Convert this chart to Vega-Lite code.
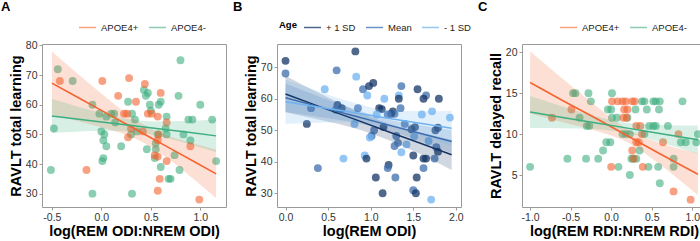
{
"$schema": "https://vega.github.io/schema/vega-lite/v6.json",
"padding": {"left": 0, "top": 0, "right": 0, "bottom": 0},
"background": "white",
"spacing": 5,
"config": {
  "font": "Liberation Sans",
  "view": {"stroke": "#9a9a9a", "strokeWidth": 1},
  "axis": {"grid": false, "domain": false, "tickColor": "#9a9a9a", "tickSize": 3, "tickCount": 12, "labelFontSize": 10.5, "labelColor": "#333333", "labelFlush": false, "labelOverlap": false, "titleFontSize": 14.5, "titleFontWeight": "bold", "titleColor": "#000000", "labelPadding": 2, "titlePadding": 2},
  "title": {"fontSize": 13, "fontWeight": "bold", "anchor": "start", "frame": "group", "color": "#000000"}
},
"resolve": {"scale": {"color": "independent", "x": "independent", "y": "independent"}, "legend": {"color": "independent"}},
"datasets": {
  "ptsA": [
    {"g":"APOE4-","x":-0.51,"y":38},{"g":"APOE4-","x":-0.48,"y":52},{"g":"APOE4-","x":-0.44,"y":72},{"g":"APOE4-","x":-0.29,"y":68},{"g":"APOE4-","x":-0.09,"y":60},{"g":"APOE4-","x":-0.09,"y":30},{"g":"APOE4-","x":-0.02,"y":57},{"g":"APOE4-","x":0.0,"y":51},{"g":"APOE4-","x":0.02,"y":48},{"g":"APOE4-","x":0.03,"y":50},{"g":"APOE4-","x":0.05,"y":46},{"g":"APOE4-","x":0.02,"y":42},{"g":"APOE4-","x":0.01,"y":41},{"g":"APOE4-","x":0.05,"y":56},{"g":"APOE4-","x":0.1,"y":57},{"g":"APOE4-","x":0.13,"y":57},{"g":"APOE4-","x":0.14,"y":54},{"g":"APOE4-","x":0.2,"y":46},{"g":"APOE4-","x":0.27,"y":61},{"g":"APOE4-","x":0.31,"y":57},{"g":"APOE4-","x":0.34,"y":55},{"g":"APOE4-","x":0.3,"y":50},{"g":"APOE4-","x":0.31,"y":30},{"g":"APOE4-","x":0.36,"y":51},{"g":"APOE4-","x":0.43,"y":65},{"g":"APOE4-","x":0.45,"y":63},{"g":"APOE4-","x":0.47,"y":64},{"g":"APOE4-","x":0.49,"y":60},{"g":"APOE4-","x":0.5,"y":58},{"g":"APOE4-","x":0.58,"y":60},{"g":"APOE4-","x":0.6,"y":61},{"g":"APOE4-","x":0.66,"y":56},{"g":"APOE4-","x":0.8,"y":75},{"g":"APOE4-","x":0.78,"y":63},{"g":"APOE4-","x":0.88,"y":55},{"g":"APOE4-","x":0.92,"y":55},{"g":"APOE4-","x":1.0,"y":60},{"g":"APOE4-","x":1.12,"y":55},{"g":"APOE4-","x":0.57,"y":50},{"g":"APOE4-","x":0.66,"y":50},{"g":"APOE4-","x":0.83,"y":50},{"g":"APOE4-","x":0.9,"y":48},{"g":"APOE4-","x":0.46,"y":45},{"g":"APOE4-","x":0.55,"y":45},{"g":"APOE4-","x":0.54,"y":42},{"g":"APOE4-","x":0.6,"y":39},{"g":"APOE4-","x":0.74,"y":43},{"g":"APOE4-","x":0.79,"y":38},{"g":"APOE4-","x":0.68,"y":35},{"g":"APOE4-","x":0.7,"y":35},{"g":"APOE4-","x":1.16,"y":41},{"g":"APOE4-","x":0.55,"y":47},{"g":"APOE4-","x":0.65,"y":52},
    {"g":"APOE4+","x":-0.42,"y":68},{"g":"APOE4+","x":0.01,"y":68},{"g":"APOE4+","x":0.28,"y":69},{"g":"APOE4+","x":0.17,"y":63},{"g":"APOE4+","x":0.35,"y":61},{"g":"APOE4+","x":0.23,"y":57},{"g":"APOE4+","x":0.26,"y":57},{"g":"APOE4+","x":0.44,"y":67},{"g":"APOE4+","x":0.6,"y":64},{"g":"APOE4+","x":0.47,"y":57},{"g":"APOE4+","x":0.51,"y":57},{"g":"APOE4+","x":0.57,"y":56},{"g":"APOE4+","x":0.66,"y":54},{"g":"APOE4+","x":0.27,"y":49},{"g":"APOE4+","x":0.3,"y":52},{"g":"APOE4+","x":0.42,"y":51},{"g":"APOE4+","x":0.58,"y":50},{"g":"APOE4+","x":0.54,"y":43},{"g":"APOE4+","x":0.57,"y":42.5},{"g":"APOE4+","x":0.66,"y":41},{"g":"APOE4+","x":0.59,"y":35},{"g":"APOE4+","x":0.57,"y":31},{"g":"APOE4+","x":-0.15,"y":38},{"g":"APOE4+","x":0.99,"y":28},{"g":"APOE4+","x":0.9,"y":46},{"g":"APOE4+","x":0.57,"y":48}
  ],
  "fitA": [
    {"g":"APOE4+","x":-0.5,"fit":67.3,"lo":56.6,"hi":78.0},{"g":"APOE4+","x":-0.25,"fit":62.7,"lo":54.6,"hi":70.8},{"g":"APOE4+","x":0,"fit":58.1,"lo":52.4,"hi":63.8},{"g":"APOE4+","x":0.25,"fit":53.5,"lo":49.8,"hi":57.2},{"g":"APOE4+","x":0.45,"fit":49.8,"lo":46.8,"hi":52.8},{"g":"APOE4+","x":0.7,"fit":45.2,"lo":41.2,"hi":49.2},{"g":"APOE4+","x":0.95,"fit":40.6,"lo":34.4,"hi":46.8},{"g":"APOE4+","x":1.16,"fit":36.7,"lo":28.5,"hi":44.9},
    {"g":"APOE4-","x":-0.5,"fit":56.2,"lo":50.5,"hi":61.9},{"g":"APOE4-","x":-0.25,"fit":55.2,"lo":50.9,"hi":59.5},{"g":"APOE4-","x":0,"fit":54.2,"lo":51.2,"hi":57.2},{"g":"APOE4-","x":0.35,"fit":52.8,"lo":50.8,"hi":54.8},{"g":"APOE4-","x":0.6,"fit":51.8,"lo":49.25,"hi":54.35},{"g":"APOE4-","x":0.9,"fit":50.6,"lo":46.6,"hi":54.6},{"g":"APOE4-","x":1.16,"fit":49.5,"lo":44.0,"hi":55.0}
  ],
  "ptsB": [
    {"age":"+ 1 SD","x":0,"y":72},{"age":"Mean","x":0,"y":68},{"age":"+ 1 SD","x":0.82,"y":75},{"age":"Mean","x":0.6,"y":69},{"age":"- 1 SD","x":0.83,"y":67},{"age":"- 1 SD","x":0.46,"y":63},{"age":"Mean","x":0.91,"y":63},{"age":"Mean","x":0.3,"y":57},{"age":"+ 1 SD","x":0.61,"y":58},{"age":"+ 1 SD","x":0.66,"y":57},{"age":"Mean","x":0.59,"y":56.5},{"age":"Mean","x":0.85,"y":57},{"age":"- 1 SD","x":0.81,"y":52},{"age":"+ 1 SD","x":0.25,"y":52},{"age":"Mean","x":0.38,"y":38},{"age":"- 1 SD","x":0.68,"y":41},{"age":"- 1 SD","x":0.93,"y":42},{"age":"+ 1 SD","x":0.95,"y":41},
    {"age":"+ 1 SD","x":1.03,"y":65},{"age":"+ 1 SD","x":0.98,"y":64},{"age":"- 1 SD","x":0.96,"y":61},{"age":"- 1 SD","x":1.16,"y":60},{"age":"Mean","x":1.36,"y":64},{"age":"- 1 SD","x":1.33,"y":61},{"age":"+ 1 SD","x":1.33,"y":60},{"age":"+ 1 SD","x":1.55,"y":63},{"age":"Mean","x":1.65,"y":61},{"age":"+ 1 SD","x":1.62,"y":60},{"age":"+ 1 SD","x":1.8,"y":60},{"age":"+ 1 SD","x":1.1,"y":57},{"age":"+ 1 SD","x":1.13,"y":56.7},{"age":"Mean","x":1.35,"y":57},{"age":"+ 1 SD","x":1.26,"y":56},{"age":"Mean","x":1.28,"y":55.2},{"age":"+ 1 SD","x":1.24,"y":55.2},{"age":"Mean","x":1.2,"y":55},{"age":"- 1 SD","x":1.07,"y":55},{"age":"- 1 SD","x":1.6,"y":55},{"age":"- 1 SD","x":1.72,"y":56},{"age":"- 1 SD","x":1.93,"y":54},{"age":"Mean","x":1.4,"y":52},{"age":"+ 1 SD","x":1.15,"y":51},{"age":"+ 1 SD","x":1.48,"y":50.3},{"age":"+ 1 SD","x":1.52,"y":51},{"age":"+ 1 SD","x":1.76,"y":50},{"age":"+ 1 SD","x":1.79,"y":50.8},{"age":"Mean","x":1.04,"y":50},{"age":"Mean","x":1.01,"y":48.2},{"age":"- 1 SD","x":0.99,"y":47.7},{"age":"Mean","x":1.3,"y":48.2},{"age":"- 1 SD","x":1.51,"y":48},{"age":"- 1 SD","x":1.68,"y":46.6},{"age":"Mean","x":1.32,"y":46},{"age":"Mean","x":1.28,"y":45},{"age":"- 1 SD","x":1.42,"y":45.5},{"age":"Mean","x":1.77,"y":44.6},{"age":"- 1 SD","x":1.36,"y":43},{"age":"+ 1 SD","x":1.79,"y":43.2},{"age":"+ 1 SD","x":1.5,"y":42},{"age":"+ 1 SD","x":1.62,"y":41},{"age":"+ 1 SD","x":1.65,"y":41},{"age":"Mean","x":1.75,"y":41},{"age":"+ 1 SD","x":1.21,"y":39},{"age":"Mean","x":1.2,"y":38},{"age":"Mean","x":1.62,"y":38},{"age":"+ 1 SD","x":1.06,"y":35},{"age":"Mean","x":1.29,"y":35},{"age":"+ 1 SD","x":1.54,"y":35},{"age":"Mean","x":1.5,"y":31},{"age":"+ 1 SD","x":1.53,"y":30},{"age":"+ 1 SD","x":1.14,"y":30},{"age":"- 1 SD","x":1.71,"y":28}
  ],
  "fitB": [
    {"age":"+ 1 SD","x":0,"fit":61.5,"lo":55.7,"hi":67.3},{"age":"+ 1 SD","x":0.4,"fit":57.5,"lo":53.3,"hi":61.7},{"age":"+ 1 SD","x":0.8,"fit":53.6,"lo":50.7,"hi":56.5},{"age":"+ 1 SD","x":1.2,"fit":49.6,"lo":47.0,"hi":52.2},{"age":"+ 1 SD","x":1.6,"fit":45.7,"lo":42.2,"hi":49.1},{"age":"+ 1 SD","x":1.95,"fit":42.2,"lo":37.4,"hi":47.0},
    {"age":"Mean","x":0,"fit":60.3,"lo":55.8,"hi":64.8},{"age":"Mean","x":0.4,"fit":57.4,"lo":54.2,"hi":60.6},{"age":"Mean","x":0.8,"fit":54.6,"lo":52.5,"hi":56.7},{"age":"Mean","x":1.2,"fit":51.7,"lo":49.9,"hi":53.5},{"age":"Mean","x":1.6,"fit":48.9,"lo":46.3,"hi":51.5},{"age":"Mean","x":1.95,"fit":46.4,"lo":42.7,"hi":50.1},
    {"age":"- 1 SD","x":0,"fit":59.0,"lo":52.0,"hi":66.0},{"age":"- 1 SD","x":0.4,"fit":57.3,"lo":52.4,"hi":62.2},{"age":"- 1 SD","x":0.8,"fit":55.6,"lo":52.5,"hi":58.7},{"age":"- 1 SD","x":1.2,"fit":53.8,"lo":51.2,"hi":56.4},{"age":"- 1 SD","x":1.6,"fit":52.1,"lo":48.2,"hi":56.0},{"age":"- 1 SD","x":1.95,"fit":50.6,"lo":45.0,"hi":56.2}
  ],
  "ptsC": [
    {"g":"APOE4-","x":-1.0,"y":6},{"g":"APOE4-","x":-0.47,"y":15},{"g":"APOE4-","x":-0.44,"y":15},{"g":"APOE4-","x":-0.28,"y":15},{"g":"APOE4-","x":-0.25,"y":14},{"g":"APOE4-","x":-0.39,"y":12},{"g":"APOE4-","x":-0.3,"y":11},{"g":"APOE4-","x":-0.27,"y":11},{"g":"APOE4-","x":-0.54,"y":7},{"g":"APOE4-","x":-0.31,"y":7},{"g":"APOE4-","x":-0.16,"y":7},{"g":"APOE4-","x":-0.1,"y":8},{"g":"APOE4-","x":-0.06,"y":9},{"g":"APOE4-","x":-0.01,"y":9},{"g":"APOE4-","x":-0.04,"y":13},{"g":"APOE4-","x":0.0,"y":13},{"g":"APOE4-","x":0.01,"y":15},{"g":"APOE4-","x":0.01,"y":12},{"g":"APOE4-","x":0.07,"y":12},{"g":"APOE4-","x":0.38,"y":14},{"g":"APOE4-","x":0.41,"y":14},{"g":"APOE4-","x":0.52,"y":14},{"g":"APOE4-","x":0.55,"y":14},{"g":"APOE4-","x":0.6,"y":14},{"g":"APOE4-","x":0.88,"y":14},{"g":"APOE4-","x":0.3,"y":13},{"g":"APOE4-","x":0.44,"y":13},{"g":"APOE4-","x":0.59,"y":13},{"g":"APOE4-","x":0.2,"y":12},{"g":"APOE4-","x":0.47,"y":11},{"g":"APOE4-","x":0.52,"y":11},{"g":"APOE4-","x":0.55,"y":11},{"g":"APOE4-","x":0.7,"y":11},{"g":"APOE4-","x":0.14,"y":10},{"g":"APOE4-","x":0.18,"y":10},{"g":"APOE4-","x":0.23,"y":10},{"g":"APOE4-","x":0.41,"y":10},{"g":"APOE4-","x":0.86,"y":9},{"g":"APOE4-","x":0.92,"y":9},{"g":"APOE4-","x":1.05,"y":9},{"g":"APOE4-","x":1.07,"y":10},{"g":"APOE4-","x":0.35,"y":8},{"g":"APOE4-","x":0.31,"y":7},{"g":"APOE4-","x":0.27,"y":7},{"g":"APOE4-","x":0.25,"y":7},{"g":"APOE4-","x":0.09,"y":6},{"g":"APOE4-","x":0.46,"y":6},{"g":"APOE4-","x":0.58,"y":6},{"g":"APOE4-","x":0.77,"y":6},{"g":"APOE4-","x":0.77,"y":7},{"g":"APOE4-","x":0.23,"y":5},{"g":"APOE4-","x":0.6,"y":4},
    {"g":"APOE4+","x":-0.73,"y":12},{"g":"APOE4+","x":-0.49,"y":13},{"g":"APOE4+","x":0.01,"y":14},{"g":"APOE4+","x":0.08,"y":14},{"g":"APOE4+","x":0.14,"y":14},{"g":"APOE4+","x":0.18,"y":14},{"g":"APOE4+","x":0.26,"y":14},{"g":"APOE4+","x":0.29,"y":14},{"g":"APOE4+","x":0.16,"y":13},{"g":"APOE4+","x":0.2,"y":13},{"g":"APOE4+","x":0.15,"y":12},{"g":"APOE4+","x":0.19,"y":12},{"g":"APOE4+","x":0.31,"y":11},{"g":"APOE4+","x":0.36,"y":11},{"g":"APOE4+","x":0.83,"y":10},{"g":"APOE4+","x":0.38,"y":10},{"g":"APOE4+","x":0.31,"y":9},{"g":"APOE4+","x":0.34,"y":9},{"g":"APOE4+","x":0.64,"y":9},{"g":"APOE4+","x":0.26,"y":8},{"g":"APOE4+","x":0.28,"y":7},{"g":"APOE4+","x":0.0,"y":6},{"g":"APOE4+","x":0.39,"y":6},{"g":"APOE4+","x":0.77,"y":3},{"g":"APOE4+","x":0.98,"y":2}
  ],
  "fitC": [
    {"g":"APOE4+","x":-1.0,"fit":16.3,"lo":12.5,"hi":20.1},{"g":"APOE4+","x":-0.6,"fit":14.1,"lo":11.45,"hi":16.75},{"g":"APOE4+","x":-0.2,"fit":12.0,"lo":10.44,"hi":13.56},{"g":"APOE4+","x":0.2,"fit":9.8,"lo":8.99,"hi":10.61},{"g":"APOE4+","x":0.6,"fit":7.6,"lo":6.29,"hi":8.91},{"g":"APOE4+","x":1.07,"fit":5.1,"lo":2.54,"hi":7.66},
    {"g":"APOE4-","x":-1.0,"fit":12.7,"lo":10.75,"hi":14.65},{"g":"APOE4-","x":-0.6,"fit":12.04,"lo":10.72,"hi":13.36},{"g":"APOE4-","x":-0.2,"fit":11.39,"lo":10.6,"hi":12.18},{"g":"APOE4-","x":0.2,"fit":10.73,"lo":10.11,"hi":11.35},{"g":"APOE4-","x":0.6,"fit":10.08,"lo":9.05,"hi":11.11},{"g":"APOE4-","x":1.07,"fit":9.3,"lo":7.56,"hi":11.04}
  ]
},
"hconcat": [
  {
    "width": 184, "height": 163,
    "title": {"text": "A", "dx": -41, "offset": 4},
    "layer": [
      {"data": {"name": "ptsA"}, "mark": {"type": "circle", "size": 62, "opacity": 0.6},
       "encoding": {
         "x": {"field": "x", "type": "quantitative", "scale": {"domain": [-0.6, 1.26], "nice": false, "zero": false}, "axis": {"values": [-0.5, 0, 0.5, 1], "tickCount": 12, "labelExpr": "replace(format(datum.value, '.1f'), '\u2212', '-')", "title": "log(REM ODI:NREM ODI)"}},
         "y": {"field": "y", "type": "quantitative", "scale": {"domain": [25.5, 80.5], "nice": false, "zero": false}, "axis": {"values": [30, 40, 50, 60, 70, 80], "tickCount": 12, "title": "RAVLT total learning"}},
         "color": {"field": "g", "type": "nominal", "scale": {"domain": ["APOE4+", "APOE4-"], "range": ["#F4632E", "#3DAE7F"]},
           "legend": {"orient": "none", "legendX": 36, "legendY": -26, "direction": "horizontal", "title": null, "symbolType": "stroke", "symbolSize": 290, "symbolStrokeWidth": 1.5, "labelFontSize": 9.5, "labelColor": "#222222", "columnPadding": 6, "labelOffset": 4,
             "encode": {"symbols": {"update": {"opacity": {"value": 1}, "strokeWidth": {"value": 1.5}}}}}}
       }},
      {"data": {"name": "fitA"}, "mark": {"type": "area", "opacity": 0.2, "interpolate": "monotone"},
       "encoding": {"x": {"field": "x", "type": "quantitative"}, "y": {"field": "lo", "type": "quantitative"}, "y2": {"field": "hi"}, "color": {"field": "g", "type": "nominal"}}},
      {"data": {"name": "fitA"}, "mark": {"type": "line", "strokeWidth": 1.5},
       "encoding": {"x": {"field": "x", "type": "quantitative"}, "y": {"field": "fit", "type": "quantitative"}, "color": {"field": "g", "type": "nominal"}}}
    ]
  },
  {
    "width": 184, "height": 163,
    "title": {"text": "B", "dx": -44, "offset": 4},
    "layer": [
      {"data": {"name": "ptsB"}, "mark": {"type": "circle", "size": 62, "opacity": 0.75},
       "encoding": {
         "x": {"field": "x", "type": "quantitative", "scale": {"domain": [-0.1, 2.06], "nice": false, "zero": false}, "axis": {"values": [0, 0.5, 1, 1.5, 2], "tickCount": 12, "format": ".1f", "title": "log(REM ODI)"}},
         "y": {"field": "y", "type": "quantitative", "scale": {"domain": [25.65, 77.35], "nice": false, "zero": false}, "axis": {"values": [30, 40, 50, 60, 70], "tickCount": 12, "title": "RAVLT total learning"}},
         "color": {"field": "age", "type": "nominal", "scale": {"domain": ["+ 1 SD", "Mean", "- 1 SD"], "range": ["#163566", "#3D6DAE", "#6FB3F0"]},
           "legend": {"orient": "none", "legendX": 2, "legendY": -26, "direction": "horizontal", "title": "Age", "titleOrient": "left", "titleFontSize": 9.5, "titleFontWeight": "bold", "titleColor": "#000000", "titlePadding": 6, "symbolType": "stroke", "symbolSize": 290, "symbolStrokeWidth": 1.5, "labelFontSize": 9.5, "labelColor": "#222222", "columnPadding": 6, "labelOffset": 4,
             "encode": {"symbols": {"update": {"opacity": {"value": 1}, "strokeWidth": {"value": 1.5}}}}}}
       }},
      {"data": {"name": "fitB"}, "mark": {"type": "area", "opacity": 0.2, "interpolate": "monotone"},
       "encoding": {"x": {"field": "x", "type": "quantitative"}, "y": {"field": "lo", "type": "quantitative"}, "y2": {"field": "hi"}, "color": {"field": "age", "type": "nominal"}}},
      {"data": {"name": "fitB"}, "mark": {"type": "line", "strokeWidth": 1.5},
       "encoding": {"x": {"field": "x", "type": "quantitative"}, "y": {"field": "fit", "type": "quantitative"}, "color": {"field": "age", "type": "nominal"}}}
    ]
  },
  {
    "width": 184, "height": 163,
    "title": {"text": "C", "dx": -44, "offset": 4},
    "layer": [
      {"data": {"name": "ptsC"}, "mark": {"type": "circle", "size": 62, "opacity": 0.6},
       "encoding": {
         "x": {"field": "x", "type": "quantitative", "scale": {"domain": [-1.1, 1.17], "nice": false, "zero": false}, "axis": {"values": [-1, -0.5, 0, 0.5, 1], "tickCount": 12, "labelExpr": "replace(format(datum.value, '.1f'), '\u2212', '-')", "title": "log(REM RDI:NREM RDI)"}},
         "y": {"field": "y", "type": "quantitative", "scale": {"domain": [1.1, 21.0], "nice": false, "zero": false}, "axis": {"values": [5, 10, 15, 20], "tickCount": 12, "title": "RAVLT delayed recall"}},
         "color": {"field": "g", "type": "nominal", "scale": {"domain": ["APOE4+", "APOE4-"], "range": ["#F4632E", "#3DAE7F"]},
           "legend": {"orient": "none", "legendX": 37, "legendY": -26, "direction": "horizontal", "title": null, "symbolType": "stroke", "symbolSize": 290, "symbolStrokeWidth": 1.5, "labelFontSize": 9.5, "labelColor": "#222222", "columnPadding": 6, "labelOffset": 4,
             "encode": {"symbols": {"update": {"opacity": {"value": 1}, "strokeWidth": {"value": 1.5}}}}}}
       }},
      {"data": {"name": "fitC"}, "mark": {"type": "area", "opacity": 0.2, "interpolate": "monotone"},
       "encoding": {"x": {"field": "x", "type": "quantitative"}, "y": {"field": "lo", "type": "quantitative"}, "y2": {"field": "hi"}, "color": {"field": "g", "type": "nominal"}}},
      {"data": {"name": "fitC"}, "mark": {"type": "line", "strokeWidth": 1.5},
       "encoding": {"x": {"field": "x", "type": "quantitative"}, "y": {"field": "fit", "type": "quantitative"}, "color": {"field": "g", "type": "nominal"}}}
    ]
  }
]
}
